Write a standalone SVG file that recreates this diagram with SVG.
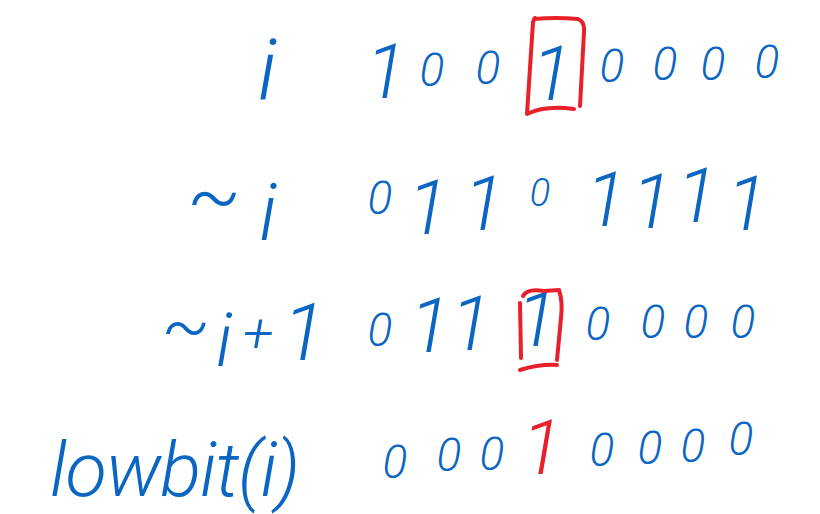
<svg xmlns="http://www.w3.org/2000/svg" width="820" height="514" viewBox="0 0 820 514">
<style>
.b,.r{font-family:Roboto,"Liberation Sans",Arial,sans-serif;font-style:italic;font-weight:300;text-anchor:middle}
.b{fill:#0a66c2}
.r{fill:#e8202a}
.one{font-size:76px}
.zero{font-size:46px}
.lbl{text-anchor:start}
.box{fill:none;stroke:#e8202a;stroke-width:4;stroke-linecap:round;stroke-linejoin:round}
</style>
<rect width="820" height="514" fill="#ffffff"/>
<g id="row-i">
<text class="b" x="267" y="100" font-size="86">i</text>
<text class="b one" x="386" y="98">1</text>
<text class="b zero" x="432" y="86">0</text>
<text class="b zero" x="488" y="84">0</text>
<text class="b one" x="552" y="100">1</text>
<text class="b zero" x="612" y="82">0</text>
<text class="b zero" x="665" y="80">0</text>
<text class="b zero" x="713" y="80">0</text>
<text class="b zero" x="767" y="78">0</text>
<path class="box" d="M534,19 Q556,17 578,19 Q585,22 584,32 L580,106 M533,22 L527,114 Q545,105 574,109 M533,22 L535,18"/>
</g>
<g id="row-not-i">
<text class="b" x="214" y="222" font-size="80">~</text>
<text class="b" x="268" y="240" font-size="80">i</text>
<text class="b zero" x="380" y="214">0</text>
<text class="b one" x="428" y="234">1</text>
<text class="b one" x="484" y="230">1</text>
<text class="b" x="540" y="206" font-size="38">0</text>
<text class="b one" x="606" y="226">1</text>
<text class="b one" x="652" y="228">1</text>
<text class="b one" x="697" y="222">1</text>
<text class="b one" x="747" y="230">1</text>
</g>
<g id="row-not-i-plus-1">
<text class="b" x="186" y="350" font-size="72">~</text>
<text class="b" x="224" y="366" font-size="74">i</text>
<text class="b" x="258" y="352" font-size="56">+</text>
<text class="b" x="304" y="360" font-size="80">1</text>
<text class="b zero" x="380" y="346">0</text>
<text class="b one" x="430" y="352">1</text>
<text class="b one" x="471" y="350">1</text>
<text class="b one" x="537" y="346">1</text>
<text class="b zero" x="598" y="340">0</text>
<text class="b zero" x="653" y="338">0</text>
<text class="b zero" x="696" y="338">0</text>
<text class="b zero" x="743" y="338">0</text>
<path class="box" d="M523,296 Q527,288 544,291 L559,290 Q563,302 561,318 L557,360 M520,303 L521,358 M520,370 Q540,364 557,365"/>
</g>
<g id="row-lowbit">
<text class="b lbl" x="50" y="496" font-size="76" textLength="250" lengthAdjust="spacing">lowbit(i)</text>
<text class="b zero" x="395" y="478">0</text>
<text class="b zero" x="449" y="471">0</text>
<text class="b zero" x="492" y="470">0</text>
<text class="r one" x="542" y="474">1</text>
<text class="b zero" x="602" y="466">0</text>
<text class="b zero" x="650" y="464">0</text>
<text class="b zero" x="693" y="462">0</text>
<text class="b zero" x="741" y="455">0</text>
</g>
</svg>
